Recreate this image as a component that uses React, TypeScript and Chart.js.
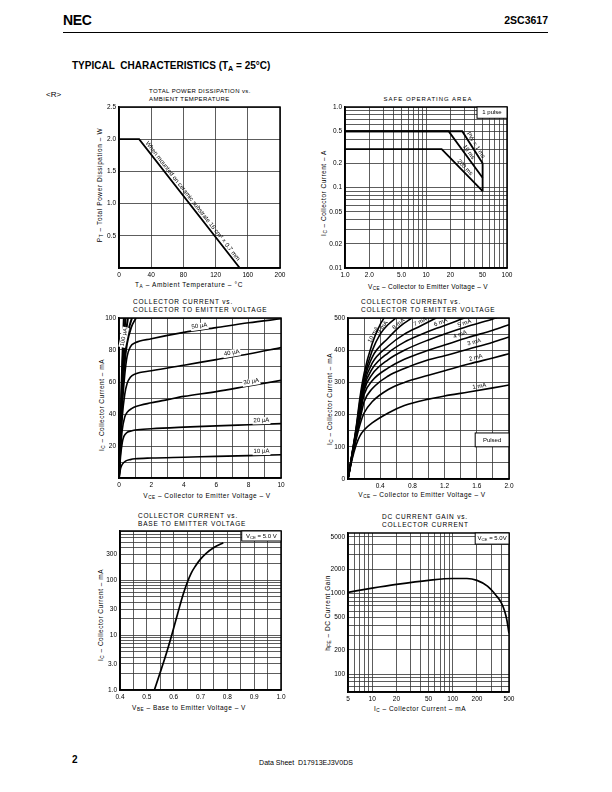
import React, { useEffect, useRef } from "react";
import { Chart, registerables } from "chart.js";
Chart.register(...registerables);

const FONT = "'Liberation Sans', Arial, Helvetica, sans-serif";
type Pt = [number, number];

// ---------- Chart 1: total power dissipation vs ambient temperature
const pdCurve: Pt[] = [[0, 2.0], [25, 2.0], [150, 0]];
const pdXTicks = [0, 40, 80, 120, 160, 200];
const pdXLabels = ["0", "40", "80", "120", "160", "200"];
const pdYTicks = [0, 0.5, 1.0, 1.5, 2.0, 2.5];
const pdYLabels = ["", "0.5", "1.0", "1.5", "2.0", "2.5"];

// ---------- Chart 2: safe operating area
const soa1ms: Pt[] = [[1, 0.5], [28, 0.5], [50, 0.2]];
const soa10ms: Pt[] = [[1, 0.5], [19, 0.5], [50, 0.132]];
const soa200ms: Pt[] = [[1, 0.3], [15.6, 0.3], [50, 0.09]];
const soaLimit: Pt[] = [[50, 0.2], [50, 0.09]];
const soaXTicks = [1, 2, 5, 10, 20, 50, 100];
const soaXLabels = ["1.0", "2.0", "5.0", "10", "20", "50", "100"];
const soaYTicks = [0.01, 0.02, 0.05, 0.1, 0.2, 0.5, 1.0];
const soaYLabels = ["0.01", "0.02", "0.05", "0.1", "0.2", "0.5", "1.0"];

// ---------- Chart 3: IC vs VCE (IB in µA)
const ib10uA: Pt[] = [[0, 0], [0.1, 6], [0.2, 8.5], [0.4, 10.5], [0.7, 11.5], [1, 12], [2, 12.5], [4, 13], [6, 13.5], [8, 14], [10, 14.5]];
const ib20uA: Pt[] = [[0, 0], [0.1, 14], [0.2, 22], [0.3, 26], [0.5, 28.5], [0.8, 29.5], [1, 30], [2, 30.8], [4, 31.8], [6, 32.6], [8, 33.3], [10, 34]];
const ib30uA: Pt[] = [[0, 0], [0.1, 18], [0.2, 30], [0.35, 38], [0.5, 41], [0.8, 43.5], [1, 44.5], [2, 47], [3, 49], [4, 51], [6, 54], [8, 57.5], [10, 61]];
const ib40uA: Pt[] = [[0, 0], [0.1, 22], [0.2, 38], [0.35, 52], [0.5, 59], [0.7, 63], [1, 65], [2, 67], [4, 70.5], [6, 74], [8, 77.5], [10, 81.5]];
const ib50uA: Pt[] = [[0, 0], [0.1, 25], [0.2, 45], [0.35, 64], [0.5, 76], [0.7, 82], [1, 84.5], [2, 87], [4, 91], [6, 94], [8, 97], [10, 99.5]];
const ib60uA: Pt[] = [[0, 0], [0.1, 27], [0.2, 50], [0.35, 72], [0.5, 84], [0.75, 94], [1.05, 100]];
const ib70uA: Pt[] = [[0, 0], [0.1, 29], [0.2, 55], [0.4, 80], [0.6, 93], [0.8, 100]];
const ib80uA: Pt[] = [[0, 0], [0.1, 31], [0.2, 60], [0.4, 88], [0.55, 100]];
const ib90uA: Pt[] = [[0, 0], [0.1, 33], [0.2, 66], [0.3, 86], [0.4, 100]];
const ib100uA: Pt[] = [[0, 0], [0.1, 36], [0.2, 72], [0.3, 100]];
const ceXTicks = [0, 2, 4, 6, 8, 10];
const ceXLabels = ["0", "2", "4", "6", "8", "10"];
const ceYTicks = [0, 20, 40, 60, 80, 100];
const ceYLabels = ["", "20", "40", "60", "80", "100"];

// ---------- Chart 4: IC vs VCE (IB in mA, pulsed)
const ib1mA: Pt[] = [[0, 0], [0.05, 60], [0.1, 105], [0.15, 135], [0.2, 152], [0.3, 174], [0.5, 205], [0.7, 228], [1.0, 248], [1.2, 258], [1.5, 270], [1.8, 283], [2.0, 292]];
const ib2mA: Pt[] = [[0, 0], [0.05, 65], [0.1, 122], [0.15, 170], [0.2, 205], [0.3, 240], [0.5, 278], [0.7, 300], [1.0, 322], [1.2, 336], [1.5, 357], [1.8, 376], [2.0, 389]];
const ib3mA: Pt[] = [[0, 0], [0.05, 68], [0.1, 128], [0.15, 185], [0.2, 240], [0.3, 280], [0.5, 320], [0.7, 343], [1.0, 370], [1.2, 383], [1.5, 404], [1.8, 425], [2.0, 441]];
const ib4mA: Pt[] = [[0, 0], [0.05, 70], [0.1, 133], [0.15, 200], [0.2, 262], [0.3, 305], [0.5, 345], [0.7, 372], [1.0, 400], [1.2, 416], [1.5, 440], [1.8, 462], [2.0, 479]];
const ib5mA: Pt[] = [[0, 0], [0.05, 72], [0.1, 138], [0.15, 205], [0.2, 275], [0.3, 325], [0.5, 371], [0.7, 400], [1.0, 432], [1.2, 450], [1.5, 475], [1.8, 497], [1.85, 501]];
const ib6mA: Pt[] = [[0, 0], [0.05, 74], [0.1, 142], [0.15, 215], [0.2, 285], [0.3, 342], [0.5, 392], [0.7, 425], [0.9, 448], [1.1, 468], [1.3, 486], [1.45, 501]];
const ib7mA: Pt[] = [[0, 0], [0.05, 75], [0.1, 146], [0.15, 225], [0.2, 295], [0.3, 360], [0.5, 413], [0.7, 450], [0.9, 475], [1.1, 501]];
const ib8mA: Pt[] = [[0, 0], [0.05, 76], [0.1, 150], [0.15, 235], [0.2, 305], [0.3, 378], [0.5, 438], [0.65, 475], [0.8, 501]];
const ib9mA: Pt[] = [[0, 0], [0.05, 77], [0.1, 154], [0.15, 245], [0.2, 315], [0.3, 398], [0.4, 450], [0.5, 480], [0.6, 501]];
const ib10mA: Pt[] = [[0, 0], [0.05, 78], [0.1, 158], [0.15, 255], [0.2, 328], [0.3, 420], [0.4, 480], [0.45, 501]];
const hcXTicks = [0, 0.4, 0.8, 1.2, 1.6, 2.0];
const hcXLabels = ["", "0.4", "0.8", "1.2", "1.6", "2.0"];
const hcYTicks = [0, 100, 200, 300, 400, 500];
const hcYLabels = ["0", "100", "200", "300", "400", "500"];

// ---------- Chart 5: IC vs VBE
const vbeCurve: Pt[] = [[0.528, 1], [0.547, 1.9], [0.57, 4.2], [0.595, 11], [0.615, 25], [0.635, 55], [0.65, 90], [0.665, 135], [0.68, 180], [0.7, 245], [0.72, 310], [0.75, 400], [0.785, 490]];
const vbeXTicks = [0.4, 0.5, 0.6, 0.7, 0.8, 0.9, 1.0];
const vbeXLabels = ["0.4", "0.5", "0.6", "0.7", "0.8", "0.9", "1.0"];
const vbeYTicks = [1, 3, 10, 30, 100, 300];
const vbeYLabels = ["1.0", "3.0", "10", "30", "100", "300"];

// ---------- Chart 6: hFE vs IC
const hfeCurve: Pt[] = [[5, 1030], [10, 1160], [20, 1290], [50, 1450], [100, 1530], [150, 1530], [200, 1450], [270, 1230], [350, 930], [400, 770], [440, 610], [470, 470], [500, 320]];
const hfeXTicks = [5, 10, 20, 50, 100, 200, 500];
const hfeXLabels = ["5", "10", "20", "50", "100", "200", "500"];
const hfeYTicks = [100, 200, 500, 1000, 2000, 5000];
const hfeYLabels = ["100", "200", "500", "1000", "2000", "5000"];

// ---------- helpers
type AxisSpec = { type: "linear" | "logarithmic"; min: number; max: number; grid: number[]; ticks: number[]; labels: string[] };
type Pad = { l: number; t: number; r: number; b: number };
type Seg = { t: string; sub?: boolean };
type Note = { x: number; y: number; text: string; rot?: number; size?: number; bg?: boolean; dy?: number; base?: CanvasTextBaseline };
type Box = { fx0: number; fy0: number; fx1: number; fy1: number; segs: Seg[] };
type SetSpec = { pts: Pt[]; w?: number; smooth?: boolean };

function linGrid(min: number, max: number, step: number) {
  const out: number[] = [];
  const n = Math.round((max - min) / step);
  for (let i = 0; i <= n; i++) out.push(+(min + i * step).toFixed(6));
  return out;
}
function logGrid(min: number, max: number) {
  const out: number[] = [];
  for (let e = Math.floor(Math.log10(min)); e <= Math.ceil(Math.log10(max)); e++)
    for (let m = 1; m <= 9; m++) {
      const v = +(m * Math.pow(10, e)).toPrecision(6);
      if (v >= min * 0.9999 && v <= max * 1.0001) out.push(v);
    }
  return out;
}

function axis(spec: AxisSpec, isX: boolean, pad: Pad) {
  return {
    type: spec.type,
    min: spec.min,
    max: spec.max,
    position: isX ? "bottom" : "left",
    afterBuildTicks: (s: any) => {
      s.ticks = spec.grid.map((v) => ({ value: v }));
    },
    afterFit: (s: any) => {
      if (isX) s.height = pad.b;
      else s.width = pad.l;
      s.paddingLeft = 0;
      s.paddingRight = 0;
      s.paddingTop = 0;
      s.paddingBottom = 0;
    },
    ticks: {
      autoSkip: false,
      maxRotation: 0,
      minRotation: 0,
      padding: 3,
      color: "#000",
      font: { family: FONT, size: 6.5 },
      callback: (v: number) => {
        const i = spec.ticks.findIndex((t) => Math.abs(t - v) <= Math.abs(t) * 1e-6 + 1e-9);
        return i >= 0 ? spec.labels[i] : "";
      },
    },
    grid: { color: "#333", lineWidth: 0.8, drawTicks: false, tickLength: 0 },
    border: { display: true, color: "#000", width: 1.5 },
  };
}

function drawSegs(ctx: CanvasRenderingContext2D, segs: Seg[], cx: number, cy: number, size: number) {
  const widths = segs.map((s) => {
    ctx.font = `${s.sub ? size * 0.72 : size}px ${FONT}`;
    return ctx.measureText(s.t).width;
  });
  let x = cx - widths.reduce((a, b) => a + b, 0) / 2;
  segs.forEach((s, i) => {
    ctx.font = `${s.sub ? size * 0.72 : size}px ${FONT}`;
    ctx.textAlign = "left";
    ctx.textBaseline = "middle";
    ctx.fillText(s.t, x, cy + (s.sub ? size * 0.25 : 0));
    x += widths[i];
  });
}

function notesPlugin(id: string, notes: Note[], boxes: Box[]) {
  return {
    id,
    afterDatasetsDraw(chart: any) {
      const ctx: CanvasRenderingContext2D = chart.ctx;
      const ca = chart.chartArea;
      const xs = chart.scales.x;
      const ys = chart.scales.y;
      ctx.save();
      ctx.strokeStyle = "#000";
      ctx.lineWidth = 1.5;
      ctx.strokeRect(ca.left, ca.top, ca.right - ca.left, ca.bottom - ca.top);
      ctx.fillStyle = "#000";
      for (const n of notes) {
        const px = xs.getPixelForValue(n.x);
        const py = ys.getPixelForValue(n.y);
        const size = n.size ?? 6;
        ctx.save();
        ctx.translate(px, py);
        ctx.rotate(((n.rot ?? 0) * Math.PI) / 180);
        ctx.font = `${size}px ${FONT}`;
        ctx.textAlign = "center";
        ctx.textBaseline = n.base ?? "bottom";
        const dy = n.dy ?? -1;
        if (n.bg) {
          const w = ctx.measureText(n.text).width;
          ctx.fillStyle = "#fff";
          const top = (n.base ?? "bottom") === "bottom" ? dy - size : dy - size / 2 - 0.5;
          ctx.fillRect(-w / 2 - 1, top, w + 2, size + 1);
          ctx.fillStyle = "#000";
        }
        ctx.fillText(n.text, 0, dy);
        ctx.restore();
      }
      for (const b of boxes) {
        const w = ca.right - ca.left;
        const h = ca.bottom - ca.top;
        const x0 = ca.left + b.fx0 * w;
        const x1 = ca.left + b.fx1 * w;
        const y0 = ca.top + b.fy0 * h;
        const y1 = ca.top + b.fy1 * h;
        ctx.fillStyle = "#fff";
        ctx.fillRect(x0, y0, x1 - x0, y1 - y0);
        ctx.strokeStyle = "#000";
        ctx.lineWidth = 1;
        ctx.strokeRect(x0, y0, x1 - x0, y1 - y0);
        ctx.fillStyle = "#000";
        drawSegs(ctx, b.segs, (x0 + x1) / 2, (y0 + y1) / 2, 6);
      }
      ctx.restore();
    },
  };
}

type PlotDef = {
  id: string;
  rect: { L: number; T: number; W: number; H: number };
  pad: Pad;
  x: AxisSpec;
  y: AxisSpec;
  sets: SetSpec[];
  notes?: Note[];
  boxes?: Box[];
};

function Plot({ def }: { def: PlotDef }) {
  const ref = useRef<HTMLCanvasElement>(null);
  const { rect, pad } = def;
  const w = rect.W + pad.l + pad.r;
  const h = rect.H + pad.t + pad.b;
  useEffect(() => {
    const chart = new Chart(ref.current as HTMLCanvasElement, {
      type: "scatter",
      data: {
        datasets: def.sets.map((s) => ({
          data: s.pts.map(([x, y]) => ({ x, y })),
          showLine: true,
          borderColor: "#000",
          backgroundColor: "#000",
          borderWidth: s.w ?? 1.6,
          pointRadius: 0,
          pointHoverRadius: 0,
          tension: s.smooth ? 0.4 : 0,
          cubicInterpolationMode: s.smooth ? "monotone" : "default",
          fill: false,
        })),
      },
      options: {
        responsive: false,
        animation: false,
        devicePixelRatio: 1,
        events: [],
        layout: { padding: { left: 0, top: pad.t, right: pad.r, bottom: 0 } },
        plugins: { legend: { display: false }, tooltip: { enabled: false }, title: { display: false } },
        scales: { x: axis(def.x, true, pad) as any, y: axis(def.y, false, pad) as any },
      },
      plugins: [notesPlugin(def.id, def.notes ?? [], def.boxes ?? [])],
    } as any);
    return () => chart.destroy();
  }, []);
  return (
    <canvas
      ref={ref}
      width={w}
      height={h}
      style={{ position: "absolute", left: rect.L - pad.l, top: rect.T - pad.t, width: w, height: h }}
    />
  );
}

const PAD: Pad = { l: 30, t: 4, r: 14, b: 14 };

const plots: PlotDef[] = [
  {
    id: "pd",
    rect: { L: 119, T: 107, W: 161, H: 161 },
    pad: PAD,
    x: { type: "linear", min: 0, max: 200, grid: linGrid(0, 200, 40), ticks: pdXTicks, labels: pdXLabels },
    y: { type: "linear", min: 0, max: 2.5, grid: linGrid(0, 2.5, 0.5), ticks: pdYTicks, labels: pdYLabels },
    sets: [{ pts: pdCurve, w: 1.8 }],
    notes: [{ x: 87.5, y: 1.0, text: "When mounted on ceramic substrate 16 cm² × 0.7 mm", rot: 52, size: 6.2 }],
  },
  {
    id: "soa",
    rect: { L: 345, T: 107, W: 162, H: 161 },
    pad: PAD,
    x: { type: "logarithmic", min: 1, max: 100, grid: logGrid(1, 100), ticks: soaXTicks, labels: soaXLabels },
    y: { type: "logarithmic", min: 0.01, max: 1, grid: logGrid(0.01, 1), ticks: soaYTicks, labels: soaYLabels },
    sets: [
      { pts: soa1ms, w: 1.8 },
      { pts: soa10ms, w: 1.8 },
      { pts: soa200ms, w: 1.8 },
      { pts: soaLimit, w: 1.8 },
    ],
    notes: [
      { x: 37.4, y: 0.316, text: "PW = 1 ms", rot: 57.5, size: 6 },
      { x: 30.8, y: 0.257, text: "10 ms", rot: 54, size: 6 },
      { x: 27.9, y: 0.164, text: "200 ms", rot: 45.7, size: 6 },
    ],
    boxes: [{ fx0: 0.815, fy0: 0, fx1: 1, fy1: 0.07, segs: [{ t: "1 pulse" }] }],
  },
  {
    id: "ce",
    rect: { L: 119, T: 318, W: 162, H: 160 },
    pad: PAD,
    x: { type: "linear", min: 0, max: 10, grid: linGrid(0, 10, 1), ticks: ceXTicks, labels: ceXLabels },
    y: { type: "linear", min: 0, max: 100, grid: linGrid(0, 100, 10), ticks: ceYTicks, labels: ceYLabels },
    sets: [
      { pts: ib10uA, smooth: true },
      { pts: ib20uA, smooth: true },
      { pts: ib30uA, smooth: true },
      { pts: ib40uA, smooth: true },
      { pts: ib50uA, smooth: true },
      { pts: ib60uA, smooth: true, w: 1.8 },
      { pts: ib70uA, smooth: true, w: 2 },
      { pts: ib80uA, smooth: true, w: 2 },
      { pts: ib90uA, smooth: true, w: 2 },
      { pts: ib100uA, smooth: true, w: 2 },
    ],
    notes: [
      { x: 5, y: 92.5, text: "50 µA", rot: -8.4, bg: true },
      { x: 7, y: 75.8, text: "40 µA", rot: -9.8, bg: true },
      { x: 8.2, y: 57.85, text: "30 µA", rot: -9.8, bg: true },
      { x: 8.8, y: 33.6, text: "20 µA", rot: -2, bg: true },
      { x: 8.8, y: 14.3, text: "10 µA", rot: -1.4, bg: true },
      { x: 0.3, y: 88, text: "100 µA", rot: -78, base: "middle", dy: 0, bg: true, size: 5.8 },
    ],
  },
  {
    id: "hc",
    rect: { L: 348, T: 318, W: 161, H: 161 },
    pad: PAD,
    x: { type: "linear", min: 0, max: 2, grid: linGrid(0, 2, 0.2), ticks: hcXTicks, labels: hcXLabels },
    y: { type: "linear", min: 0, max: 500, grid: linGrid(0, 500, 50), ticks: hcYTicks, labels: hcYLabels },
    sets: [ib1mA, ib2mA, ib3mA, ib4mA, ib5mA, ib6mA, ib7mA, ib8mA, ib9mA, ib10mA].map((p) => ({ pts: p, smooth: true })),
    notes: [
      { x: 1.64, y: 276, text: "1 mA", rot: -10 },
      { x: 1.6, y: 365, text: "2 mA", rot: -15 },
      { x: 1.58, y: 413, text: "3 mA", rot: -15 },
      { x: 1.41, y: 437, text: "4 mA", rot: -20 },
      { x: 1.46, y: 472, text: "5 mA", rot: -18 },
      { x: 1.17, y: 475, text: "6 mA", rot: -22 },
      { x: 0.92, y: 477, text: "7 mA", rot: -26 },
      { x: 0.66, y: 472, text: "8 mA", rot: -40 },
      { x: 0.47, y: 464, text: "9 mA", rot: -54 },
      { x: 0.36, y: 442, text: "10 mA", rot: -62 },
    ],
    boxes: [{ fx0: 0.79, fy0: 0.714, fx1: 1, fy1: 0.8, segs: [{ t: "Pulsed" }] }],
  },
  {
    id: "vbe",
    rect: { L: 120, T: 531, W: 161, H: 159 },
    pad: PAD,
    x: { type: "linear", min: 0.4, max: 1.0, grid: linGrid(0.4, 1.0, 0.05), ticks: vbeXTicks, labels: vbeXLabels },
    y: { type: "logarithmic", min: 1, max: 800, grid: logGrid(1, 800), ticks: vbeYTicks, labels: vbeYLabels },
    sets: [{ pts: vbeCurve, smooth: true, w: 1.7 }],
    boxes: [{ fx0: 0.756, fy0: 0, fx1: 1, fy1: 0.063, segs: [{ t: "V" }, { t: "CE", sub: true }, { t: " = 5.0 V" }] }],
  },
  {
    id: "hfe",
    rect: { L: 348, T: 533, W: 161, H: 159 },
    pad: PAD,
    x: { type: "logarithmic", min: 5, max: 500, grid: logGrid(5, 500), ticks: hfeXTicks, labels: hfeXLabels },
    y: { type: "logarithmic", min: 60, max: 5600, grid: logGrid(60, 5600), ticks: hfeYTicks, labels: hfeYLabels },
    sets: [{ pts: hfeCurve, smooth: true, w: 1.7 }],
    boxes: [{ fx0: 0.79, fy0: 0, fx1: 1, fy1: 0.07, segs: [{ t: "V" }, { t: "CE", sub: true }, { t: " = 5.0V" }] }],
  },
];

function Sub({ children }: { children: React.ReactNode }) {
  return <span style={{ fontSize: "0.72em", position: "relative", top: "0.25em" }}>{children}</span>;
}

function Txt(props: { x: number; y: number; size?: number; bold?: boolean; align?: "left" | "center" | "right"; rot?: number; ls?: number; children: React.ReactNode }) {
  const { x, y, size = 7, bold = false, align = "left", rot = 0, ls = 0 } = props;
  const tx = align === "left" ? "0%" : align === "center" ? "-50%" : "-100%";
  return (
    <div
      style={{
        position: "absolute",
        left: x,
        top: y,
        fontFamily: FONT,
        fontSize: size,
        fontWeight: bold ? 700 : 400,
        lineHeight: 1,
        whiteSpace: "nowrap",
        letterSpacing: ls,
        color: "#000",
        transform: `translate(${tx}, -50%) rotate(${rot}deg)`,
      }}
    >
      {props.children}
    </div>
  );
}

const D = " \u2013 ";

export default function App() {
  return (
    <div style={{ position: "absolute", left: 0, top: 0, width: 612, height: 792, background: "#fff", overflow: "hidden" }}>
      <Txt x={63} y={20} size={14} bold ls={-0.3}>NEC</Txt>
      <Txt x={548} y={20} size={10.5} bold align="right">2SC3617</Txt>
      <div style={{ position: "absolute", left: 63, top: 32, width: 485, height: 1, background: "#000" }} />
      <Txt x={72} y={66} size={10} bold>
        TYPICAL&nbsp; CHARACTERISTICS (T<Sub>A</Sub> = 25°C)
      </Txt>
      <Txt x={46} y={95} size={8}>&lt;R&gt;</Txt>

      {/* chart titles */}
      <Txt x={149} y={91} size={6} ls={0.4}>TOTAL POWER DISSIPATION vs.</Txt>
      <Txt x={149} y={99} size={6} ls={0.4}>AMBIENT TEMPERATURE</Txt>
      <Txt x={428} y={99} size={6} ls={1} align="center">SAFE OPERATING AREA</Txt>
      <Txt x={133} y={302} size={6.5} ls={0.8}>COLLECTOR CURRENT vs.</Txt>
      <Txt x={133} y={310} size={6.5} ls={0.8}>COLLECTOR TO EMITTER VOLTAGE</Txt>
      <Txt x={361} y={302} size={6.5} ls={0.8}>COLLECTOR CURRENT vs.</Txt>
      <Txt x={361} y={310} size={6.5} ls={0.8}>COLLECTOR TO EMITTER VOLTAGE</Txt>
      <Txt x={138} y={516} size={6.5} ls={0.8}>COLLECTOR CURRENT vs.</Txt>
      <Txt x={138} y={524} size={6.5} ls={0.8}>BASE TO EMITTER VOLTAGE</Txt>
      <Txt x={382} y={517} size={6.5} ls={0.8}>DC CURRENT GAIN vs.</Txt>
      <Txt x={382} y={525} size={6.5} ls={0.8}>COLLECTOR CURRENT</Txt>

      {/* axis titles */}
      <Txt x={189} y={285} size={6.5} ls={0.6} align="center">T<Sub>A</Sub>{D}Ambient Temperature{D}°C</Txt>
      <Txt x={100} y={185} size={6.5} ls={0.6} align="center" rot={-90}>P<Sub>T</Sub>{D}Total Power Dissipation{D}W</Txt>
      <Txt x={428} y={287} size={6.5} ls={0.3} align="center">V<Sub>CE</Sub>{D}Collector to Emitter Voltage{D}V</Txt>
      <Txt x={324} y={193} size={6.5} ls={0.5} align="center" rot={-90}>I<Sub>C</Sub>{D}Collector Current{D}A</Txt>
      <Txt x={207} y={496} size={6.5} ls={0.5} align="center">V<Sub>CE</Sub>{D}Collector to Emitter Voltage{D}V</Txt>
      <Txt x={102} y={405} size={6.5} ls={0.5} align="center" rot={-90}>I<Sub>C</Sub>{D}Collector Current{D}mA</Txt>
      <Txt x={422} y={495} size={6.5} ls={0.5} align="center">V<Sub>CE</Sub>{D}Collector to Emitter Voltage{D}V</Txt>
      <Txt x={330} y={399} size={6.5} ls={0.5} align="center" rot={-90}>I<Sub>C</Sub>{D}Collector Current{D}mA</Txt>
      <Txt x={189} y={708} size={6.5} ls={0.5} align="center">V<Sub>BE</Sub>{D}Base to Emitter Voltage{D}V</Txt>
      <Txt x={101} y={615} size={6.5} ls={0.5} align="center" rot={-90}>I<Sub>C</Sub>{D}Collector Current{D}mA</Txt>
      <Txt x={420} y={709} size={6.5} ls={0.5} align="center">I<Sub>C</Sub>{D}Collector Current{D}mA</Txt>
      <Txt x={328} y={613} size={6.5} ls={0.5} align="center" rot={-90}>h<Sub>FE</Sub>{D}DC Current Gain</Txt>

      {plots.map((p) => (
        <Plot key={p.id} def={p} />
      ))}

      <Txt x={72} y={760} size={10} bold>2</Txt>
      <Txt x={306} y={762} size={7} align="center">Data Sheet&nbsp; D17913EJ3V0DS</Txt>
    </div>
  );
}
